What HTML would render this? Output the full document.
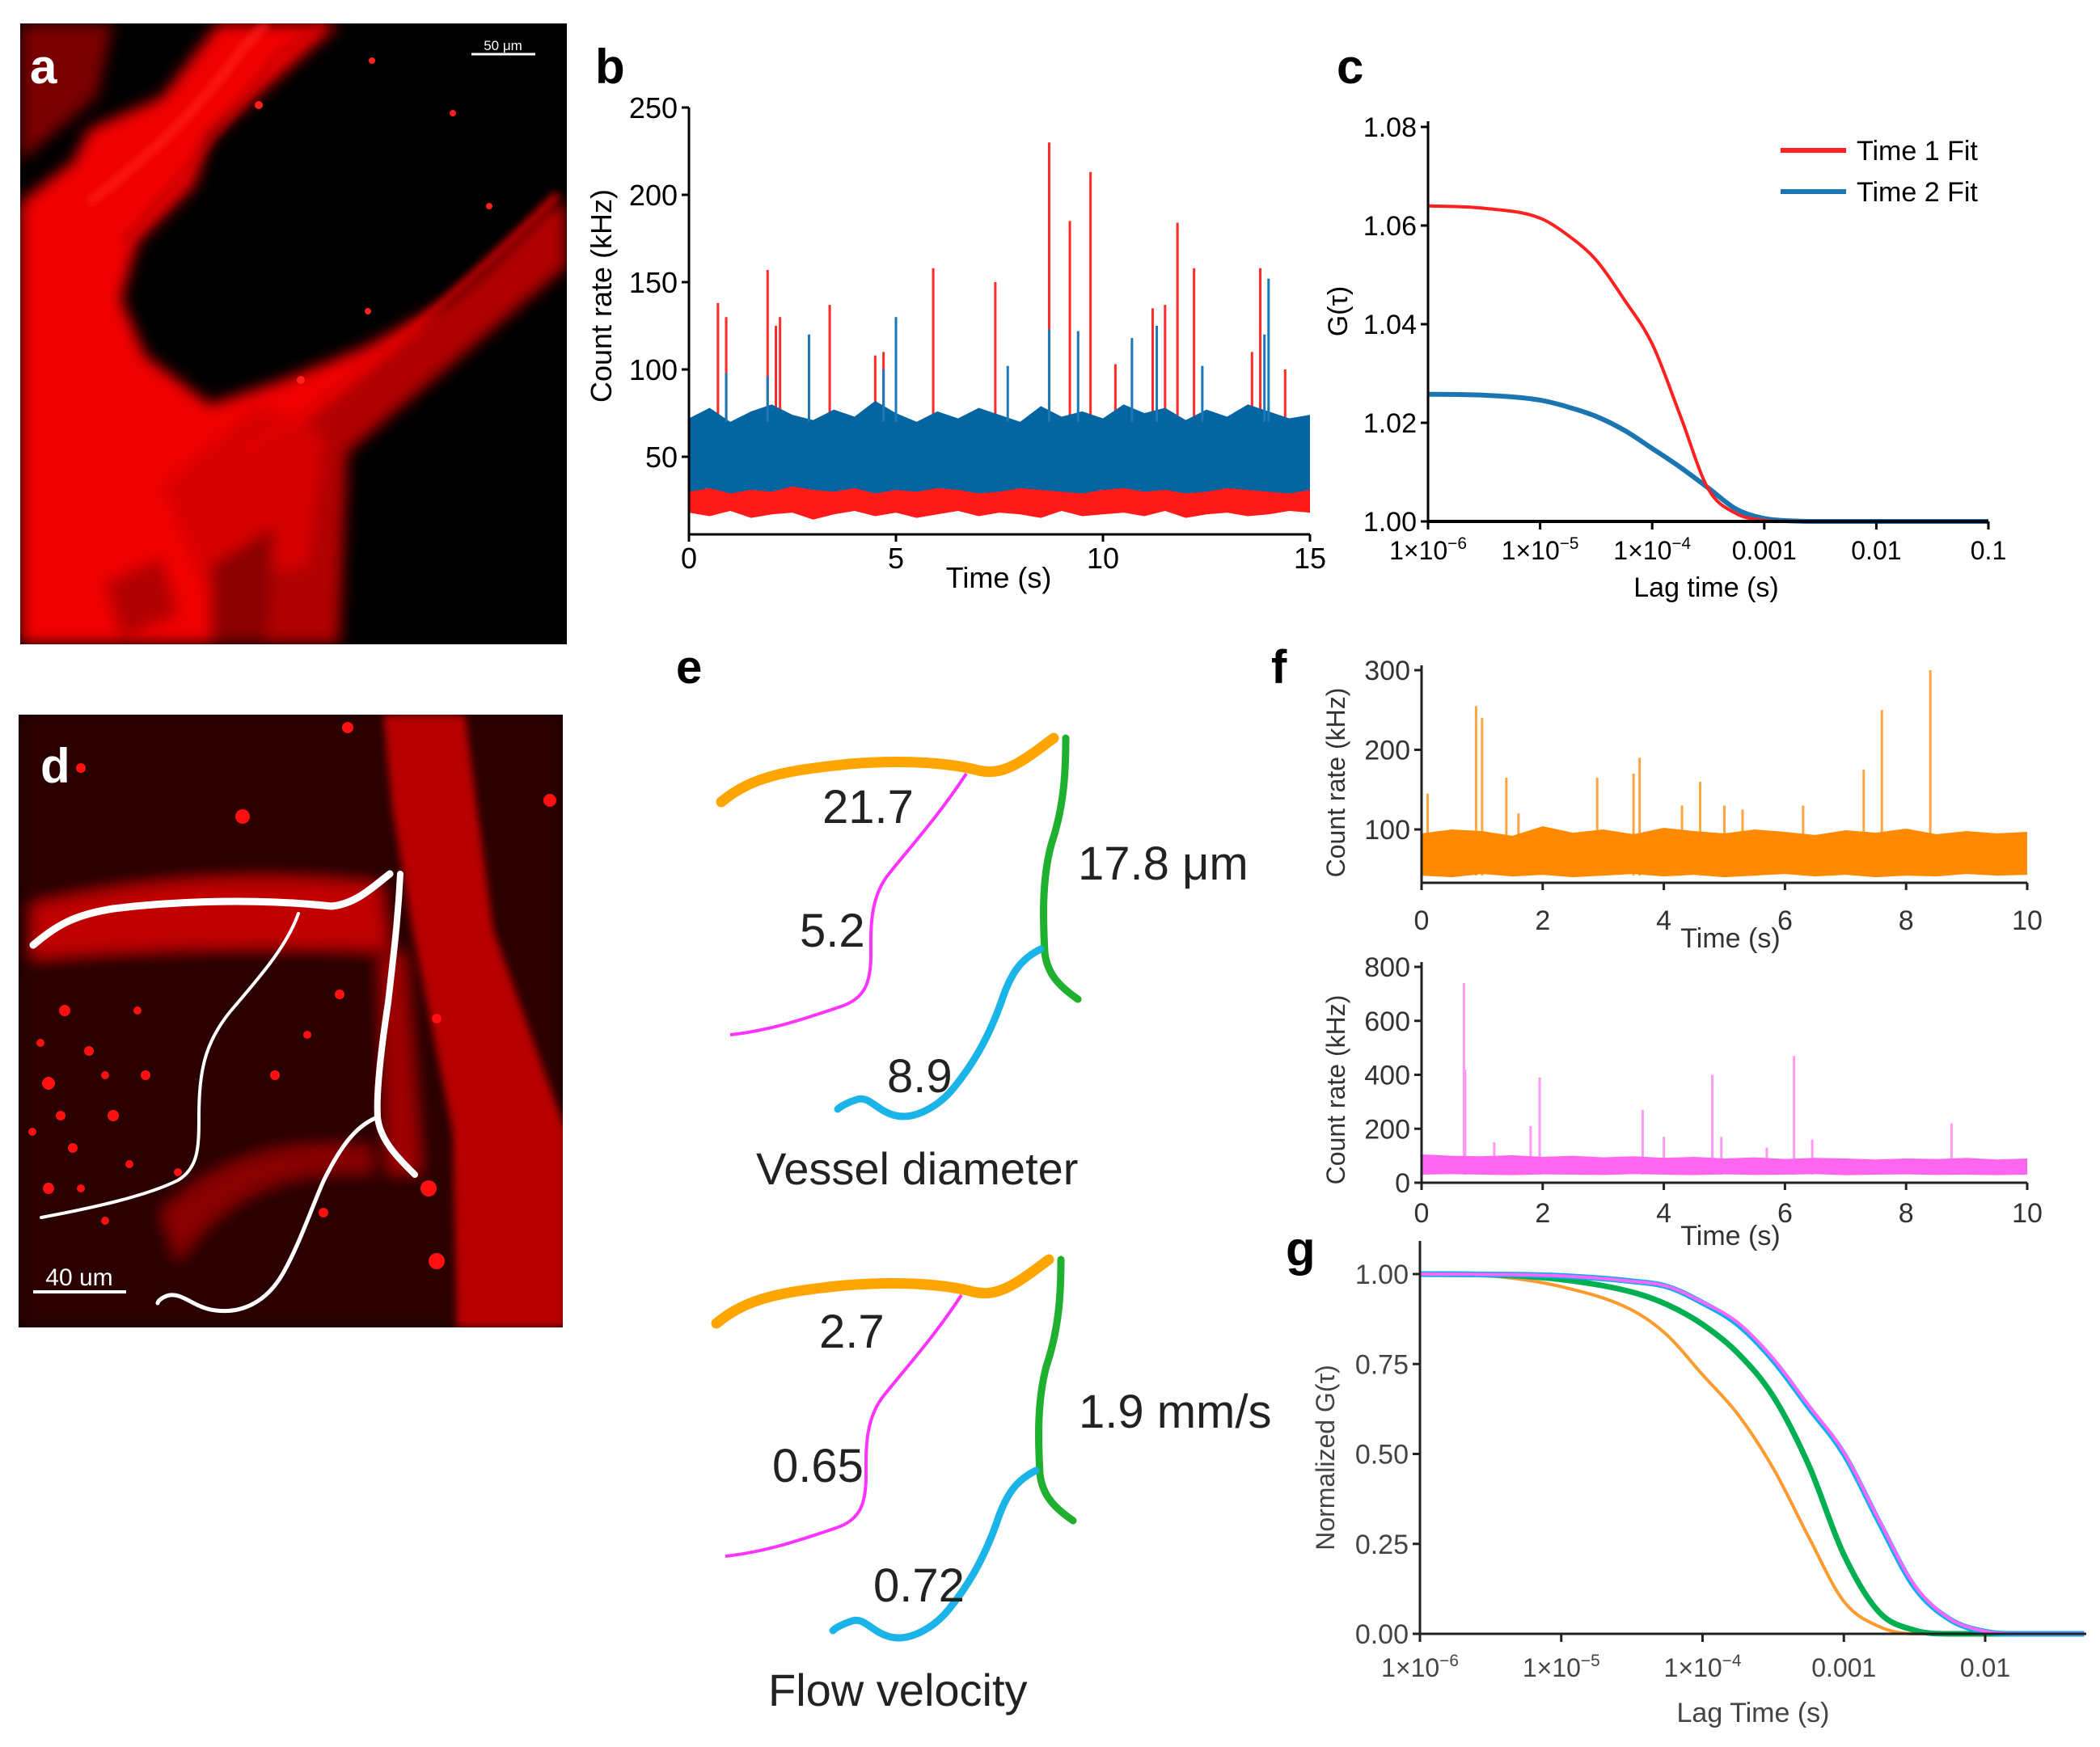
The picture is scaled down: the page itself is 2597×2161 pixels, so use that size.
<!DOCTYPE html>
<html><head><meta charset="utf-8">
<style>
html,body{margin:0;padding:0;background:#fff;}
svg{display:block;font-family:"Liberation Sans",sans-serif;}
</style></head>
<body>
<svg id="fig" width="2597" height="2161" viewBox="0 0 2597 2161" xmlns="http://www.w3.org/2000/svg">
<defs>
<filter id="blur6" x="-20%" y="-20%" width="140%" height="140%"><feGaussianBlur stdDeviation="5"/></filter>
<filter id="blur14" x="-20%" y="-20%" width="140%" height="140%"><feGaussianBlur stdDeviation="9"/></filter>
<clipPath id="clipA"><rect x="25" y="29" width="676" height="768"/></clipPath>
<clipPath id="clipD"><rect x="23" y="884" width="673" height="758"/></clipPath>
</defs>

<!-- Panel a -->
<g clip-path="url(#clipA)">
  <rect x="25" y="29" width="676" height="768" fill="#000"/>
  <g filter="url(#blur14)">
    <path d="M25,29 L140,29 L120,120 L25,200 Z" fill="#7a0000"/>
    <path d="M25,250 L90,200 L110,160 L200,120 L270,29 L420,29 L260,170 L240,230 L170,300 L150,370 L180,440 L260,500 L350,470 L450,430 L560,370 L690,250 L700,300 L560,420 L440,520 L410,580 L400,797 L25,797 Z" fill="#f00000"/>
    <path d="M330,560 L700,250 L701,330 L430,560 L420,797 L330,797 Z" fill="#b00000"/>
    <path d="M200,600 L320,500 L400,540 L380,700 L250,720 Z" fill="#d80000"/>
    <path d="M260,700 L340,650 L330,797 L260,797 Z" fill="#8a0000"/>
    <path d="M130,720 L200,690 L220,760 L150,790 Z" fill="#b00000"/>
  </g>
  <path d="M110,250 Q230,160 300,60 L330,29" stroke="#ff2020" stroke-width="8" fill="none" filter="url(#blur6)"/>
  <path d="M150,300 Q260,180 340,70 L400,29" stroke="#c00000" stroke-width="6" fill="none" filter="url(#blur6)"/>
  <path d="M300,560 Q480,450 690,240" stroke="#e00000" stroke-width="8" fill="none" filter="url(#blur6)"/>
  <g fill="#ff2020"><circle cx="460" cy="75" r="4"/><circle cx="320" cy="130" r="5"/><circle cx="560" cy="140" r="4"/><circle cx="605" cy="255" r="4"/><circle cx="372" cy="470" r="5"/><circle cx="455" cy="385" r="4"/></g>
  <line x1="583" y1="67" x2="662" y2="67" stroke="#fff" stroke-width="3"/>
  <text x="622" y="62" font-size="17" fill="#fff" text-anchor="middle">50 μm</text>
</g>
<text x="37" y="103" font-size="60" font-weight="bold" fill="#fff">a</text>

<!-- Panel d -->
<g clip-path="url(#clipD)">
  <rect x="23" y="884" width="673" height="758" fill="#180000"/>
  <g filter="url(#blur14)">
    <rect x="23" y="884" width="673" height="758" fill="#2a0000"/>
    <path d="M40,1120 Q250,1070 470,1095 L480,1175 Q250,1165 40,1185 Z" fill="#c00000"/>
    <path d="M470,1180 L500,1180 L520,1450 L480,1450 Z" fill="#a00000"/>
    <path d="M200,1500 Q300,1400 460,1420 L460,1450 Q300,1440 220,1560 Z" fill="#8a0000"/>
  </g>
  <path d="M474,884 L575,884 L590,1000 L610,1150 L700,1400 L700,1642 L565,1642 L560,1400 L510,1150 L485,1000 Z" fill="#b80000" filter="url(#blur6)"/>
  <g fill="#ff1010">
    <circle cx="80" cy="1250" r="7"/><circle cx="110" cy="1300" r="6"/><circle cx="60" cy="1340" r="8"/>
    <circle cx="140" cy="1380" r="7"/><circle cx="90" cy="1420" r="6"/><circle cx="180" cy="1330" r="6"/>
    <circle cx="300" cy="1010" r="9"/><circle cx="430" cy="900" r="7"/><circle cx="540" cy="1560" r="10"/>
    <circle cx="680" cy="990" r="8"/><circle cx="100" cy="950" r="6"/><circle cx="530" cy="1470" r="10"/>
    <circle cx="170" cy="1250" r="5"/><circle cx="60" cy="1470" r="7"/><circle cx="340" cy="1330" r="6"/>
    <circle cx="220" cy="1450" r="5"/><circle cx="400" cy="1500" r="6"/><circle cx="130" cy="1510" r="5"/>
    <circle cx="50" cy="1290" r="5"/><circle cx="130" cy="1330" r="5"/><circle cx="75" cy="1380" r="6"/>
    <circle cx="160" cy="1440" r="5"/><circle cx="100" cy="1470" r="5"/><circle cx="40" cy="1400" r="5"/>
    <circle cx="420" cy="1230" r="6"/><circle cx="380" cy="1280" r="5"/><circle cx="540" cy="1260" r="6"/>
  </g>
  <g fill="none" stroke="#fff" stroke-linecap="round" stroke-linejoin="round">
    <path stroke-width="9" d="M41,1169 C70,1145 90,1132 140,1124 C205,1116 308,1110 410,1121 C440,1118 460,1098 482,1081"/>
    <path stroke-width="8" d="M495,1081 C492,1140 487,1178 480,1240 C472,1293 465,1350 467,1382 C470,1410 490,1430 513,1453"/>
    <path stroke-width="4" d="M369,1130 C355,1170 320,1210 290,1245 C255,1285 246,1320 246,1382 C246,1420 245,1445 220,1460 C180,1480 110,1495 51,1506"/>
    <path stroke-width="5" d="M467,1382 C440,1392 420,1420 400,1461 C385,1495 370,1540 350,1575 C330,1610 300,1625 267,1621 C240,1618 228,1600 210,1602 C200,1604 195,1610 195,1612"/>
  </g>
  <line x1="41" y1="1598" x2="156" y2="1598" stroke="#fff" stroke-width="4"/>
  <text x="98" y="1590" font-size="30" fill="#fff" text-anchor="middle">40 um</text>
</g>
<text x="50" y="968" font-size="60" font-weight="bold" fill="#fff">d</text>

<!-- Panel e -->
<g font-size="58" fill="#222">
  <text x="836" y="845" font-size="58" font-weight="bold" fill="#000">e</text>
  <g id="eset1">
    <path d="M892,992 C930,960 974,953 1050,945 C1128,939 1180,945 1210,953 C1240,960 1262,944 1303,913" stroke="#ffa500" stroke-width="13" fill="none" stroke-linecap="round"/>
    <path d="M1195,957 C1160,1010 1128,1045 1100,1080 C1075,1110 1077,1150 1077,1180 C1077,1215 1070,1235 1040,1245 C990,1262 950,1275 903,1280" stroke="#ff33ff" stroke-width="4" fill="none"/>
    <path d="M1318,913 C1318,960 1315,1000 1300,1045 C1288,1090 1290,1140 1292,1178 C1295,1205 1310,1220 1333,1236" stroke="#1fb030" stroke-width="9" fill="none" stroke-linecap="round"/>
    <path d="M1287,1174 C1265,1185 1251,1200 1238,1240 C1220,1290 1200,1320 1180,1345 C1160,1370 1130,1385 1108,1380 C1085,1375 1075,1355 1060,1360 C1050,1363 1040,1368 1036,1372" stroke="#1ab4e8" stroke-width="9" fill="none" stroke-linecap="round"/>
  </g>
  <text x="1017" y="1018">21.7</text>
  <text x="989" y="1171">5.2</text>
  <text x="1333" y="1088">17.8 μm</text>
  <text x="1097" y="1351">8.9</text>
  <text x="935" y="1465" font-size="56">Vessel diameter</text>
  <use href="#eset1" transform="translate(-6,645)"/>
  <text x="1013" y="1667">2.7</text>
  <text x="955" y="1833">0.65</text>
  <text x="1334" y="1766">1.9 mm/s</text>
  <text x="1080" y="1981">0.72</text>
  <text x="950" y="2110" font-size="56">Flow velocity</text>
</g>

<text x="736" y="103" font-size="60" font-weight="bold">b</text>
<text x="1653" y="103" font-size="60" font-weight="bold">c</text>
<text x="1572" y="845" font-size="58" font-weight="bold">f</text>
<text x="1590" y="1565" font-size="60" font-weight="bold">g</text>

<g id="charts"></g>
</svg>
<script>
// ---------- DATA ----------
// Panel b
const bTicksX = [0, 5, 10, 15];
const bTicksY = [50, 100, 150, 200, 250];
const bBandTimes = [0,0.5,1,1.5,2,2.5,3,3.5,4,4.5,5,5.5,6,6.5,7,7.5,8,8.5,9,9.5,10,10.5,11,11.5,12,12.5,13,13.5,14,14.5,15];
const bBlueHigh = [72,78,70,76,80,74,71,77,73,82,75,70,76,72,78,74,70,79,73,76,72,80,75,78,71,77,73,80,76,72,74];
const bBlueLow  = [30,32,29,31,30,33,31,30,32,29,31,30,32,31,29,30,32,31,30,29,31,32,30,31,29,30,32,31,30,29,31];
const bRedLow   = [18,16,19,15,17,18,14,17,19,16,18,15,17,19,16,18,17,15,19,16,17,18,16,19,15,17,18,16,17,19,18];
const bRedSpikeT = [0.7,0.9,1.9,2.1,2.2,3.4,4.5,4.7,5.9,7.4,8.7,9.2,9.7,10.3,11.2,11.5,11.8,12.2,13.6,13.8,14.4];
const bRedSpikeV = [138,130,157,125,130,137,108,110,158,150,230,185,213,103,135,137,184,158,110,158,100];
const bBlueSpikeT = [0.9,1.9,2.9,4.7,5.0,7.7,8.7,9.4,10.7,11.3,12.4,13.9,14.0];
const bBlueSpikeV = [98,96,120,100,130,102,123,122,118,125,102,120,152];
// Panel c
const cLogTau = [-6,-5.5,-5,-4.75,-4.5,-4.25,-4,-3.75,-3.5,-3.25,-3,-2.75,-2.5,-2,-1];
const cTime1 = [1.064,1.0635,1.0615,1.058,1.053,1.045,1.036,1.0215,1.0066,1.0016,1.0002,1.0,1.0,1.0,1.0];
const cTime2 = [1.0258,1.0256,1.0246,1.0232,1.0213,1.0185,1.0148,1.011,1.0068,1.0025,1.0006,1.0001,1.0,1.0,1.0];
const cTicksY = [1.00,1.02,1.04,1.06,1.08];
const cTickLabelsX = [["1×10","−6"],["1×10","−5"],["1×10","−4"],["0.001",""],["0.01",""],["0.1",""]];
// Panel f
const fTicksX = [0,2,4,6,8,10];
const fTopTicksY = [100,200,300];
const fBotTicksY = [0,200,400,600,800];
const fBandTimes = [0,0.5,1,1.5,2,2.5,3,3.5,4,4.5,5,5.5,6,6.5,7,7.5,8,8.5,9,9.5,10];
const fOrangeHigh = [95,100,98,92,104,96,100,94,102,98,95,100,97,93,99,96,101,94,98,95,97];
const fOrangeLow  = [42,40,44,41,43,40,42,44,41,43,40,42,44,41,43,40,42,41,44,42,43];
const fOrangeSpikeT = [0.1,0.9,1.0,1.4,1.6,2.9,3.5,3.6,4.3,4.6,5.0,5.3,6.3,7.3,7.6,8.4];
const fOrangeSpikeV = [145,255,240,165,120,165,170,190,130,160,130,125,130,175,250,300];
const fPinkHigh = [105,100,98,102,96,100,94,98,92,96,90,94,88,92,90,86,90,88,92,86,90];
const fPinkLow  = [30,32,30,28,31,30,29,32,30,28,31,29,30,32,28,30,31,29,30,28,30];
const fPinkSpikeT = [0.7,0.72,1.2,1.8,1.95,3.65,4.0,4.8,4.95,5.7,6.15,6.45,8.75];
const fPinkSpikeV = [740,420,150,210,390,270,170,400,170,130,470,160,220];
// Panel g
const gLogTau = [-6,-5.5,-5,-4.5,-4.25,-4,-3.75,-3.5,-3.25,-3,-2.75,-2.5,-2.25,-2,-1.75,-1.3];
const gOrange = [1,0.995,0.965,0.90,0.83,0.72,0.61,0.46,0.27,0.09,0.02,0.0,0.0,0,0,0];
const gGreen  = [1,0.998,0.985,0.95,0.915,0.86,0.78,0.66,0.47,0.22,0.06,0.01,0.0,0,0,0];
const gBlue   = [1,0.999,0.995,0.98,0.965,0.92,0.86,0.76,0.63,0.50,0.31,0.13,0.04,0.006,0,0];
const gPink   = [1,0.999,0.995,0.98,0.966,0.922,0.865,0.765,0.635,0.505,0.315,0.135,0.042,0.007,0,0];
const gTicksY = [0,0.25,0.5,0.75,1.0];
const gTickLabelsX = [["1×10","−6"],["1×10","−5"],["1×10","−4"],["0.001",""],["0.01",""]];

// ---------- HELPERS ----------
const NS = "http://www.w3.org/2000/svg";
const root = document.getElementById('charts');
function mk(tag, attrs, parent){
  const e = document.createElementNS(NS, tag);
  for (const k in attrs) e.setAttribute(k, attrs[k]);
  (parent||root).appendChild(e);
  return e;
}
function lin(d0,d1,r0,r1){ return v => r0 + (v-d0)/(d1-d0)*(r1-r0); }
function txt(parent, x, y, s, size, anchor, extra){
  const t = mk('text', Object.assign({x:x,y:y,'font-size':size,'text-anchor':anchor||'middle'}, extra||{}), parent);
  t.textContent = s; return t;
}
function sci(parent, x, y, lab, size, color){
  const t = mk('text', {x:x,y:y,'font-size':size,'text-anchor':'middle',fill:color}, parent);
  const a = document.createElementNS(NS,'tspan'); a.textContent = lab[0]; t.appendChild(a);
  if (lab[1]) { const b = document.createElementNS(NS,'tspan'); b.setAttribute('dy', -size*0.4); b.setAttribute('font-size', size*0.65); b.textContent = lab[1]; t.appendChild(b); }
  return t;
}
// monotone cubic (Fritsch-Carlson) smooth path through points
function smooth(px, py){
  const n = px.length, d = [], m = [];
  for (let i=0;i<n-1;i++) d.push((py[i+1]-py[i])/(px[i+1]-px[i]));
  m.push(d[0]);
  for (let i=1;i<n-1;i++) m.push(d[i-1]*d[i] <= 0 ? 0 : (d[i-1]+d[i])/2);
  m.push(d[n-2]);
  for (let i=0;i<n-1;i++){ if (d[i]===0){ m[i]=0; m[i+1]=0; } }
  let s = 'M'+px[0]+','+py[0];
  for (let i=0;i<n-1;i++){
    const h = (px[i+1]-px[i])/3;
    s += ' C'+(px[i]+h)+','+(py[i]+m[i]*h)+' '+(px[i+1]-h)+','+(py[i+1]-m[i+1]*h)+' '+px[i+1]+','+py[i+1];
  }
  return s;
}

// ---------- PANEL b ----------
(function(){
  const g = mk('g', {});
  
  
  const x = lin(0,15,852,1620), y = lin(50,250,565,133);
  const yb = 661;
  let pts = bBandTimes.map((t,i)=>x(t)+','+y(bBlueLow[i]+4)).join(' ') + ' ' + bBandTimes.slice().reverse().map((t,i)=>x(t)+','+y(bRedLow[bRedLow.length-1-i])).join(' ');
  const rb = mk('polygon', {points:pts, fill:'#ff1a1a'}, g);
  
  
  bRedSpikeT.forEach((t,i)=>{
    const l = mk('line', {x1:x(t),x2:x(t),y1:y(60),y2:y(bRedSpikeV[i]),stroke:'#ff2a2a','stroke-width':3}, g);
    
    
  });
  pts = bBandTimes.map((t,i)=>x(t)+','+y(bBlueHigh[i])).join(' ') + ' ' + bBandTimes.slice().reverse().map((t,i)=>x(t)+','+y(bBlueLow[bBlueLow.length-1-i])).join(' ');
  const bb = mk('polygon', {points:pts, fill:'#0565a0'}, g);
  
  
  bBlueSpikeT.forEach((t,i)=>{
    const l = mk('line', {x1:x(t),x2:x(t),y1:y(70),y2:y(bBlueSpikeV[i]),stroke:'#1a78b8','stroke-width':3}, g);
    
    
  });
  mk('line', {x1:852,x2:852,y1:133,y2:yb,stroke:'#000','stroke-width':3}, g);
  mk('line', {x1:852,x2:1620,y1:yb,y2:yb,stroke:'#000','stroke-width':3}, g);
  bTicksX.forEach(v=>{ mk('line',{x1:x(v),x2:x(v),y1:yb,y2:yb+9,stroke:'#000','stroke-width':3},g); txt(g,x(v),yb+42,String(v),36); });
  bTicksY.forEach(v=>{ mk('line',{x1:852,x2:843,y1:y(v),y2:y(v),stroke:'#000','stroke-width':3},g); txt(g,838,y(v)+13,String(v),36,'end'); });
  txt(g,1235,727,'Time (s)',36);
  txt(g,0,0,'Count rate (kHz)',36,'middle',{transform:'translate(756,366) rotate(-90)'});
})();

// ---------- PANEL c ----------
(function(){
  const g = mk('g', {});
  
  
  const x = lin(-6,-1,1766,2459), y = lin(1.0,1.08,645,157);
  const l1 = mk('path', {d:smooth(cLogTau.map(x), cTime2.map(y)), fill:'none', stroke:'#1a75b0','stroke-width':6}, g);
  
  
  const l2 = mk('path', {d:smooth(cLogTau.map(x), cTime1.map(y)), fill:'none', stroke:'#ff2020','stroke-width':4}, g);
  
  
  mk('line', {x1:1766,x2:1766,y1:150,y2:645,stroke:'#000','stroke-width':3}, g);
  mk('line', {x1:1766,x2:2459,y1:645,y2:645,stroke:'#000','stroke-width':4}, g);
  cTickLabelsX.forEach((lab,i)=>{ const v=-6+i; mk('line',{x1:x(v),x2:x(v),y1:645,y2:655,stroke:'#000','stroke-width':3},g); sci(g,x(v),692,lab,32,'#000'); });
  cTicksY.forEach(v=>{ mk('line',{x1:1766,x2:1757,y1:y(v),y2:y(v),stroke:'#000','stroke-width':3},g); txt(g,1752,y(v)+12,v.toFixed(2),34,'end'); });
  txt(g,2110,738,'Lag time (s)',34);
  txt(g,0,0,'G(τ)',34,'middle',{transform:'translate(1666,385) rotate(-90)'});
  const lg = mk('g', {}, g);
  
  
  mk('line',{x1:2202,x2:2283,y1:186,y2:186,stroke:'#ff2020','stroke-width':6},lg);
  mk('line',{x1:2202,x2:2283,y1:237,y2:237,stroke:'#1a75b0','stroke-width':6},lg);
  txt(lg,2296,198,'Time 1 Fit',34,'start');
  txt(lg,2296,249,'Time 2 Fit',34,'start');
})();

// ---------- PANEL f ----------
function traceChart(name, yDom, yRange, ticksY, band, spikes, color, spikeColor, xLabY, titleY, yLabCenter){
  const g = mk('g', {});
  
  
  const x = lin(0,10,1758,2507), y = lin(yDom[0],yDom[1],yRange[0],yRange[1]);
  spikes[0].forEach((t,i)=>{
    const l = mk('line',{x1:x(t),x2:x(t),y1:y(band[1][0]),y2:y(spikes[1][i]),stroke:spikeColor,'stroke-width':3},g);
    
    
  });
  const pts = fBandTimes.map((t,i)=>x(t)+','+y(band[0][i])).join(' ') + ' ' + fBandTimes.slice().reverse().map((t,i)=>x(t)+','+y(band[1][band[1].length-1-i])).join(' ');
  const p = mk('polygon',{points:pts,fill:color},g);
  
  
  const bottom = yRange[2];
  mk('line',{x1:1758,x2:1758,y1:yRange[1]-6,y2:bottom,stroke:'#222','stroke-width':3},g);
  mk('line',{x1:1758,x2:2507,y1:bottom,y2:bottom,stroke:'#222','stroke-width':3},g);
  fTicksX.forEach(v=>{ mk('line',{x1:x(v),x2:x(v),y1:bottom,y2:bottom+9,stroke:'#222','stroke-width':3},g); txt(g,x(v),xLabY,String(v),34,'middle',{fill:'#333'}); });
  ticksY.forEach(v=>{ mk('line',{x1:1758,x2:1749,y1:y(v),y2:y(v),stroke:'#222','stroke-width':3},g); txt(g,1744,y(v)+12,String(v),34,'end',{fill:'#333'}); });
  txt(g,2140,titleY,'Time (s)',34,'middle',{fill:'#333'});
  txt(g,0,0,'Count rate (kHz)',32,'middle',{fill:'#333',transform:'translate('+1663+','+yLabCenter+') rotate(-90)'});
}
traceChart('count-rate-chart-f-top',[100,300],[1026,829,1092],fTopTicksY,[fOrangeHigh,fOrangeLow],[fOrangeSpikeT,fOrangeSpikeV],'#ff8a00','#ffa640',1150,1172,968);
traceChart('count-rate-chart-f-bottom',[0,800],[1463,1196,1463],fBotTicksY,[fPinkHigh,fPinkLow],[fPinkSpikeT,fPinkSpikeV],'#ff66f0','#ff99f5',1512,1540,1348);

// ---------- PANEL g ----------
(function(){
  const g = mk('g', {});
  
  
  const x = lin(-6,-2,1756,2455), y = lin(0,1,2021,1576);
  [[gOrange,'#ff9a2e',4,'orange-curve'],[gGreen,'#00b050',7,'green-curve'],[gBlue,'#00b0f0',7,'blue-curve'],[gPink,'#ff66ff',4,'pink-curve']].forEach(s=>{
    const l = mk('path',{d:smooth(gLogTau.map(x), s[0].map(y)),fill:'none',stroke:s[1],'stroke-width':s[2]},g);
    
    
  });
  mk('line',{x1:1756,x2:1756,y1:1535,y2:2021,stroke:'#222','stroke-width':3},g);
  mk('line',{x1:1756,x2:2580,y1:2021,y2:2021,stroke:'#222','stroke-width':3},g);
  gTickLabelsX.forEach((lab,i)=>{ const v=-6+i; mk('line',{x1:x(v),x2:x(v),y1:2021,y2:2031,stroke:'#222','stroke-width':3},g); sci(g,x(v),2074,lab,32,'#444'); });
  gTicksY.forEach(v=>{ mk('line',{x1:1756,x2:1747,y1:y(v),y2:y(v),stroke:'#222','stroke-width':3},g); txt(g,1742,y(v)+12,v.toFixed(2),34,'end',{fill:'#444'}); });
  txt(g,2168,2130,'Lag Time (s)',34,'middle',{fill:'#444'});
  txt(g,0,0,'Normalized G(τ)',32,'middle',{fill:'#444',transform:'translate(1650,1803) rotate(-90)'});
})();
</script>
</body></html>
